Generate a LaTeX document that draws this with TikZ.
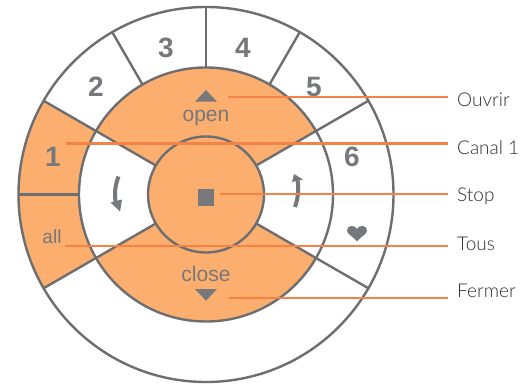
\documentclass[tikz,border=0pt]{standalone}
\usepackage{fontspec}
\setmainfont{Liberation Sans}
\newfontfamily\labfont{Lato Light}
\definecolor{ringgray}{HTML}{6D6E71}
\definecolor{softgray}{HTML}{77787B}
\definecolor{wedge}{HTML}{FBAE6E}
\definecolor{leader}{HTML}{F58244}
\definecolor{labink}{HTML}{2E2E30}
\tikzset{
  ring/.style={draw=ringgray,line width=2.4pt},
  pad/.style={fill=wedge},
  numtext/.style={text=softgray,font=\fontsize{28}{28}\selectfont\bfseries,inner sep=0pt,anchor=base},
  cmdtext/.style={text=softgray,font=\fontsize{21}{21}\selectfont,inner sep=0pt,anchor=base},
  alltext/.style={text=softgray,font=\fontsize{19}{19}\selectfont,inner sep=0pt,anchor=base},
  sidelabel/.style={text=labink,font=\labfont\fontsize{19}{19}\selectfont,anchor=base west,inner sep=0pt},
  leadline/.style={draw=leader,line width=2.2pt,shorten >=9pt},
  glyph/.style={fill=softgray,draw=none},
}
\begin{document}
\begin{tikzpicture}[x=1pt,y=-1pt]
\useasboundingbox (0,0) rectangle (530,383);
\def\ro{187.5}\def\rm{127}\def\ri{58}
\coordinate (c) at (206,194.5);
% filled pads
\fill[pad] (c) ++(150:\ro pt) arc[start angle=150,end angle=210,radius=\ro pt]
  -- ++(30:60.5pt) arc[start angle=210,end angle=150,radius=\rm pt] -- cycle;
\fill[pad] (c) ++(30:\rm pt) arc[start angle=30,end angle=150,radius=\rm pt]
  -- ++(-30:69pt) arc[start angle=150,end angle=30,radius=\ri pt] -- cycle;
\fill[pad] (c) ++(210:\rm pt) arc[start angle=210,end angle=330,radius=\rm pt]
  -- ++(150:69pt) arc[start angle=330,end angle=210,radius=\ri pt] -- cycle;
\fill[pad] (c) circle[radius=\ri pt];
% spokes
\foreach \a in {30,150,210,330}
  \draw[ring] (c) ++(\a:\ri pt) -- ++(\a:129.5pt);
\foreach \a in {60,90,120,180}
  \draw[ring] (c) ++(\a:\rm pt) -- ++(\a:60.5pt);
% rings
\draw[ring] (c) circle[radius=\ro pt];
\draw[ring] (c) circle[radius=\rm pt];
\draw[ring] (c) circle[radius=\ri pt];
% text on the dial
\node[numtext] at (166,57) {3};
\node[numtext] at (243,57) {4};
\node[numtext] at (96,96) {2};
\node[numtext] at (314,96) {5};
\node[numtext] at (53,166) {1};
\node[numtext] at (352,166) {6};
\node[alltext] at (52,243) {all};
\node[cmdtext] at (206,121) {open};
\node[cmdtext] at (206,281) {close};
% glyphs
\fill[glyph] (206,90) -- (217,101.7) -- (195,101.7) -- cycle;
\fill[glyph] (206,300.7) -- (217,289) -- (195,289) -- cycle;
\fill[glyph] (198,188.5) rectangle (214,205.7);
\fill[glyph] (357,241.5) .. controls (353,236) and (347,234.5) .. (347,230.5)
  .. controls (347,225) and (355,224.5) .. (357,229)
  .. controls (359,224.5) and (367,225) .. (367,230.5)
  .. controls (367,234.5) and (361,236) .. (357,241.5) -- cycle;
\draw[softgray,line width=4pt] (118.5,176.5) .. controls (115,186) and (114.5,192) .. (115.5,202);
\fill[glyph] (110.5,202.5) -- (122,199.5) -- (120,211.5) -- cycle;
\draw[softgray,line width=4pt] (295,207) .. controls (298,198) and (299,190) .. (297.5,180);
\fill[glyph] (292,182) -- (303,179.5) -- (294,174) -- cycle;
% labels
\node[sidelabel] (ouvrir) at (457,106) {Ouvrir};
\node[sidelabel] (canal) at (457,154) {Canal 1};
\node[sidelabel] (stop) at (457,201.5) {Stop};
\node[sidelabel] (tous) at (457,250) {Tous};
\node[sidelabel] (fermer) at (457,297.5) {Fermer};
% leader lines
\coordinate (s1) at (228,97);
\coordinate (s2) at (66,143.5);
\coordinate (s3) at (220,194.3);
\coordinate (s4) at (65,246);
\coordinate (s5) at (229,298);
\draw[leadline] (s1) -- (s1 -| ouvrir.west);
\draw[leadline] (s2) -- (s2 -| canal.west);
\draw[leadline] (s3) -- (s3 -| stop.west);
\draw[leadline] (s4) -- (s4 -| tous.west);
\draw[leadline] (s5) -- (s5 -| fermer.west);
\end{tikzpicture}
\end{document}
